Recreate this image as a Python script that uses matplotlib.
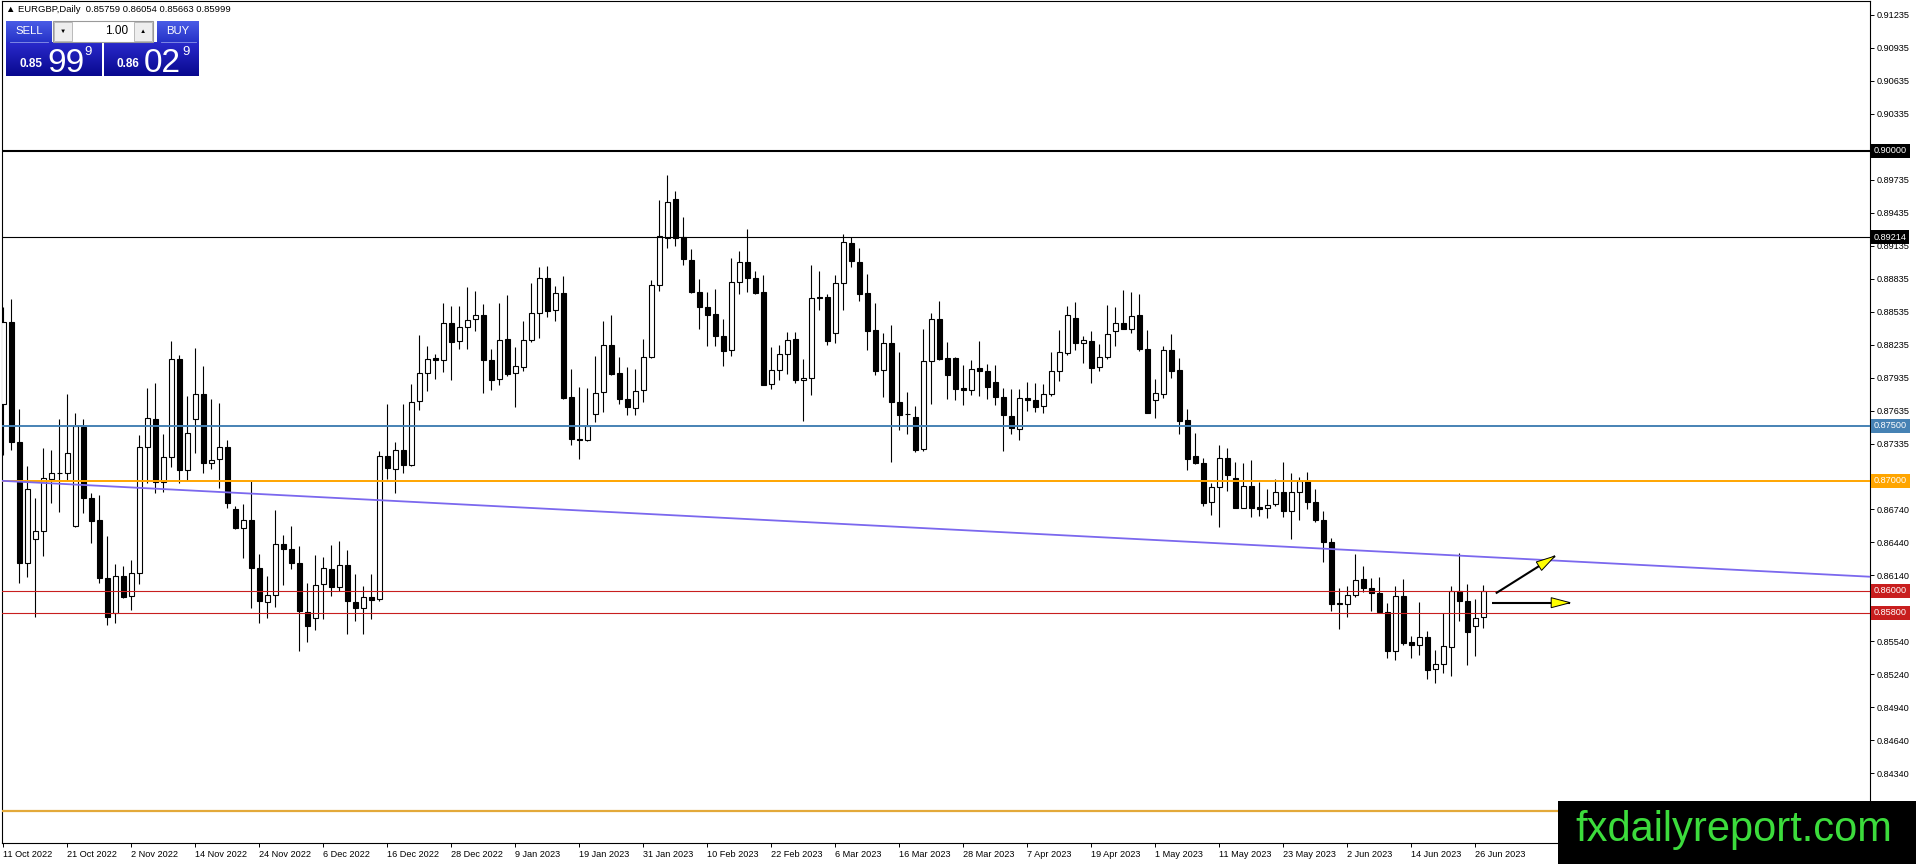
import numpy as np
import matplotlib
matplotlib.use("Agg")
import matplotlib.pyplot as plt
from matplotlib.patches import Rectangle, Polygon
from matplotlib.colors import LinearSegmentedColormap
from matplotlib.transforms import IdentityTransform, blended_transform_factory

# ---------------- data ----------------
symbol = "EURGBP,Daily"

opens = [0.87697, 0.88445, 0.87355, 0.86255, 0.86467, 0.86545, 0.87018, 0.87067, 0.87067, 0.86591,
         0.87491, 0.86839, 0.86642, 0.86118, 0.85794, 0.86133, 0.85952, 0.86158, 0.87303, 0.87558,
         0.86985, 0.87212, 0.88103, 0.87097, 0.87558, 0.87785, 0.87158, 0.87197, 0.87306, 0.86742,
         0.86570, 0.86645, 0.86206, 0.85900, 0.85961, 0.86424, 0.86379, 0.86252, 0.85806, 0.85752,
         0.86061, 0.86197, 0.86033, 0.86236, 0.85897, 0.85839, 0.85942, 0.85924, 0.87227, 0.87106,
         0.87282, 0.87145, 0.87724, 0.87979, 0.88115, 0.88094, 0.88433, 0.88267, 0.88397, 0.88467,
         0.88509, 0.88100, 0.87924, 0.88288, 0.87976, 0.88033, 0.88279, 0.88524, 0.88845, 0.88552,
         0.88706, 0.87761, 0.87379, 0.87367, 0.87606, 0.87803, 0.88236, 0.87979, 0.87742, 0.87661,
         0.87826, 0.88123, 0.88775, 0.89205, 0.89562, 0.89211, 0.89008, 0.88714, 0.88578, 0.88517,
         0.88314, 0.88184, 0.88805, 0.88987, 0.88844, 0.88714, 0.87878, 0.88005, 0.88150, 0.88290,
         0.87914, 0.87938, 0.88672, 0.88672, 0.88341, 0.88796, 0.89159, 0.88988, 0.88706, 0.88370,
         0.88003, 0.88255, 0.87715, 0.87603, 0.87579, 0.87288, 0.88085, 0.88470, 0.88115, 0.88115,
         0.87842, 0.87821, 0.88024, 0.88000, 0.87897, 0.87761, 0.87588, 0.87470, 0.87755, 0.87736,
         0.87676, 0.87788, 0.88000, 0.88161, 0.88476, 0.88248, 0.88270, 0.88030, 0.88121, 0.88364,
         0.88430, 0.88376, 0.88506, 0.88197, 0.87730, 0.87785, 0.88188, 0.88006, 0.87548, 0.87224,
         0.87161, 0.86803, 0.86945, 0.87206, 0.87021, 0.86755, 0.86952, 0.86761, 0.86748, 0.86788,
         0.86897, 0.86727, 0.86897, 0.86994, 0.86806, 0.86645, 0.86442, 0.85879, 0.85879, 0.85961,
         0.86106, 0.86024, 0.85982, 0.85806, 0.85448, 0.85955, 0.85533, 0.85506, 0.85579, 0.85288,
         0.85333, 0.85488, 0.85994, 0.85909, 0.85676, 0.85759]

highs = [0.88582, 0.88648, 0.87648, 0.87133, 0.86839, 0.87294, 0.87279, 0.87558, 0.87788, 0.87612,
         0.87558, 0.86885, 0.86870, 0.86497, 0.86242, 0.86224, 0.86279, 0.87415, 0.87839, 0.87885,
         0.87424, 0.88270, 0.88142, 0.87770, 0.88203, 0.88042, 0.87742, 0.87706, 0.87373, 0.86767,
         0.86791, 0.86994, 0.86336, 0.86136, 0.86736, 0.86509, 0.86591, 0.86403, 0.86070, 0.86327,
         0.86306, 0.86418, 0.86448, 0.86367, 0.86155, 0.86039, 0.86155, 0.87267, 0.87700, 0.87348,
         0.87700, 0.87882, 0.88327, 0.88227, 0.88152, 0.88615, 0.88591, 0.88585, 0.88758, 0.88727,
         0.88609, 0.88200, 0.88615, 0.88691, 0.88218, 0.88455, 0.88797, 0.88939, 0.88955, 0.88773,
         0.88858, 0.88015, 0.87852, 0.87842, 0.88136, 0.88448, 0.88503, 0.88124, 0.88036, 0.88018,
         0.88290, 0.88826, 0.89553, 0.89781, 0.89635, 0.89399, 0.89108, 0.88835, 0.88714, 0.88744,
         0.88472, 0.89023, 0.89090, 0.89284, 0.88908, 0.88866, 0.88214, 0.88235, 0.88356, 0.88356,
         0.88108, 0.88963, 0.88908, 0.88699, 0.88866, 0.89244, 0.89214, 0.89115, 0.88879, 0.88615,
         0.88342, 0.88418, 0.88170, 0.87806, 0.87676, 0.88379, 0.88524, 0.88630, 0.88258, 0.88121,
         0.88055, 0.88100, 0.88267, 0.88061, 0.88055, 0.87842, 0.87833, 0.87836, 0.87894, 0.87888,
         0.87879, 0.88170, 0.88373, 0.88585, 0.88627, 0.88315, 0.88361, 0.88242, 0.88597, 0.88582,
         0.88733, 0.88715, 0.88697, 0.88370, 0.87921, 0.88224, 0.88333, 0.88118, 0.87652, 0.87430,
         0.87203, 0.86982, 0.87321, 0.87294, 0.87170, 0.87164, 0.87185, 0.86991, 0.86921, 0.87015,
         0.87167, 0.87070, 0.87033, 0.87079, 0.86924, 0.86721, 0.86479, 0.86024, 0.86039, 0.86336,
         0.86227, 0.86115, 0.86121, 0.85888, 0.86045, 0.86106, 0.85585, 0.85897, 0.85636, 0.85464,
         0.85797, 0.86045, 0.86342, 0.86064, 0.85924, 0.86054]

lows = [0.87233, 0.87279, 0.86067, 0.86127, 0.85764, 0.86315, 0.86794, 0.86718, 0.87006, 0.86582,
        0.86703, 0.86436, 0.86067, 0.85688, 0.85703, 0.85930, 0.85824, 0.86058, 0.86976, 0.86885,
        0.86894, 0.87127, 0.86976, 0.87006, 0.87248, 0.87067, 0.87106, 0.86933, 0.86752, 0.86561,
        0.86297, 0.85842, 0.85706, 0.85752, 0.85852, 0.86049, 0.86197, 0.85448, 0.85530, 0.85639,
        0.85742, 0.85955, 0.85994, 0.85609, 0.85721, 0.85609, 0.85742, 0.85903, 0.87015, 0.86888,
        0.87070, 0.87130, 0.87639, 0.87812, 0.87927, 0.87988, 0.87918, 0.88200, 0.88200, 0.88364,
        0.87797, 0.87821, 0.87867, 0.87948, 0.87667, 0.87994, 0.88261, 0.88297, 0.88485, 0.88448,
        0.87745, 0.87321, 0.87200, 0.87358, 0.87530, 0.87624, 0.87958, 0.87700, 0.87600, 0.87600,
        0.87714, 0.88114, 0.88729, 0.89114, 0.89138, 0.88963, 0.88705, 0.88375, 0.88229, 0.88229,
        0.88041, 0.88132, 0.88693, 0.88720, 0.88693, 0.87866, 0.87835, 0.87920, 0.87966, 0.87890,
        0.87541, 0.87775, 0.88556, 0.88235, 0.88256, 0.88556, 0.88947, 0.88636, 0.88191, 0.87964,
        0.87758, 0.87170, 0.87458, 0.87424, 0.87258, 0.87267, 0.87700, 0.88100, 0.87745, 0.87736,
        0.87691, 0.87782, 0.87773, 0.87745, 0.87691, 0.87267, 0.87424, 0.87373, 0.87636, 0.87624,
        0.87615, 0.87767, 0.87903, 0.88142, 0.88188, 0.88073, 0.87891, 0.88000, 0.88103, 0.88224,
        0.88376, 0.88345, 0.88182, 0.87612, 0.87573, 0.87755, 0.87930, 0.87424, 0.87097, 0.87152,
        0.86770, 0.86688, 0.86582, 0.86909, 0.86748, 0.86748, 0.86673, 0.86679, 0.86658, 0.86767,
        0.86670, 0.86470, 0.86645, 0.86742, 0.86624, 0.86261, 0.85812, 0.85652, 0.85761, 0.85942,
        0.85985, 0.85812, 0.85797, 0.85388, 0.85367, 0.85509, 0.85388, 0.85418, 0.85197, 0.85161,
        0.85252, 0.85221, 0.85721, 0.85327, 0.85403, 0.85663]

closes = [0.88445, 0.87355, 0.86255, 0.86921, 0.86545, 0.87021, 0.87067, 0.87070, 0.87255, 0.87500,
          0.86839, 0.86636, 0.86118, 0.85758, 0.86133, 0.85945, 0.86158, 0.87303, 0.87567, 0.86991,
          0.87212, 0.88103, 0.87097, 0.87430, 0.87785, 0.87158, 0.87188, 0.87306, 0.86797, 0.86570,
          0.86639, 0.86206, 0.85903, 0.85961, 0.86424, 0.86379, 0.86252, 0.85812, 0.85682, 0.86052,
          0.86206, 0.86033, 0.86236, 0.85903, 0.85839, 0.85942, 0.85912, 0.87227, 0.87112, 0.87282,
          0.87145, 0.87715, 0.87979, 0.88106, 0.88094, 0.88433, 0.88261, 0.88397, 0.88458, 0.88506,
          0.88100, 0.87912, 0.88279, 0.87973, 0.88042, 0.88279, 0.88524, 0.88845, 0.88539, 0.88706,
          0.87752, 0.87379, 0.87367, 0.87497, 0.87797, 0.88236, 0.87973, 0.87742, 0.87667, 0.87818,
          0.88123, 0.88775, 0.89223, 0.89532, 0.89205, 0.89011, 0.88714, 0.88575, 0.88502, 0.88311,
          0.88175, 0.88805, 0.88987, 0.88841, 0.88708, 0.87872, 0.88005, 0.88150, 0.88278, 0.87911,
          0.87938, 0.88659, 0.88659, 0.88272, 0.88796, 0.89169, 0.88993, 0.88700, 0.88364, 0.88000,
          0.88255, 0.87712, 0.87600, 0.87606, 0.87282, 0.88091, 0.88470, 0.88109, 0.87958, 0.87836,
          0.87821, 0.88015, 0.87994, 0.87855, 0.87758, 0.87594, 0.87479, 0.87752, 0.87730, 0.87667,
          0.87788, 0.88000, 0.88170, 0.88509, 0.88248, 0.88279, 0.88027, 0.88121, 0.88333, 0.88430,
          0.88382, 0.88497, 0.88197, 0.87618, 0.87794, 0.88188, 0.88000, 0.87545, 0.87200, 0.87158,
          0.86800, 0.86945, 0.87203, 0.87055, 0.86755, 0.86952, 0.86755, 0.86745, 0.86779, 0.86897,
          0.86727, 0.86897, 0.86994, 0.86806, 0.86639, 0.86442, 0.85879, 0.85885, 0.85961, 0.86094,
          0.86024, 0.85979, 0.85803, 0.85448, 0.85955, 0.85524, 0.85506, 0.85579, 0.85282, 0.85333,
          0.85494, 0.85994, 0.85903, 0.85621, 0.85752, 0.85999]

date_labels = ["11 Oct 2022", "21 Oct 2022", "2 Nov 2022", "14 Nov 2022", "24 Nov 2022",
               "6 Dec 2022", "16 Dec 2022", "28 Dec 2022", "9 Jan 2023", "19 Jan 2023",
               "31 Jan 2023", "10 Feb 2023", "22 Feb 2023", "6 Mar 2023", "16 Mar 2023",
               "28 Mar 2023", "7 Apr 2023", "19 Apr 2023", "1 May 2023", "11 May 2023",
               "23 May 2023", "2 Jun 2023", "14 Jun 2023", "26 Jun 2023"]
bars_per_label = 8

price_ticks = [0.91235, 0.90935, 0.90635, 0.90335, 0.90035, 0.89735, 0.89435, 0.89135,
               0.88835, 0.88535, 0.88235, 0.87935, 0.87635, 0.87335, 0.87040, 0.86740,
               0.86440, 0.86140, 0.85840, 0.85540, 0.85240, 0.84940, 0.84640, 0.84340]

level_prices = [0.90000, 0.89214, 0.87500, 0.87000, 0.86000, 0.85800, 0.84000]
level_colors = ["#000000", "#000000", "#4682B4", "#FFA500", "#C81E1E", "#C81E1E", "#E3A93A"]
level_widths = [1.5, 0.8, 1.4, 1.4, 0.8, 0.8, 1.6]
level_tagged = [True, True, True, True, True, True, False]

trend_x = [-0.375, 233.4]
trend_y = [0.87000, 0.86127]

sell_price = ("0.85", "99", "9")
buy_price = ("0.86", "02", "9")
lot_size = "1.00"
watermark = "fxdailyreport.com"

# ---------------- figure ----------------
W, H = 1916, 864
plt.rcParams["font.family"] = ["Liberation Sans", "DejaVu Sans"]
fig = plt.figure(figsize=(W / 100, H / 100), dpi=100)
fig.patch.set_facecolor("white")

ax = fig.add_axes([2 / W, 21 / H, 1868 / W, 842 / H])
ax.set_facecolor("white")
ax.set_xlim(-0.125, 233.375)
ax.set_ylim(0.837064, 0.913609)

o = np.array(opens); h = np.array(highs); l = np.array(lows); c = np.array(closes)
x = np.arange(len(o))
up = c >= o

# candles
ax.vlines(x, l, h, color="black", lw=0.8, zorder=3)
bottoms = np.minimum(o, c)
heights = np.abs(c - o)
ax.bar(x, heights, bottom=bottoms, width=0.625,
       color=np.where(up, "white", "black"), edgecolor="black", lw=0.8, zorder=4)

# horizontal levels
for p, col, lw in zip(level_prices, level_colors, level_widths):
    ax.axhline(p, color=col, lw=lw, zorder=5)

# trend line
ax.plot(trend_x, trend_y, color="#7B68EE", lw=1.3, zorder=5, clip_on=True)

# axes style
for s in ax.spines.values():
    s.set_color("black")
    s.set_linewidth(0.8)

ax.yaxis.tick_right()
ax.set_yticks(price_ticks)
ax.set_yticklabels([f"{t:.5f}" for t in price_ticks])
ax.tick_params(axis="y", direction="out", length=3, width=0.7, pad=1.5,
               labelsize=6.6, colors="black")

tick_pos = [i * bars_per_label for i in range(len(date_labels))]
ax.set_xticks(tick_pos)
ax.set_xticklabels(date_labels)
ax.tick_params(axis="x", direction="out", length=3, width=0.7, pad=2,
               labelsize=6.6, colors="black")
for lab in ax.get_xticklabels():
    lab.set_ha("left")

# level tags on the price axis
btr = blended_transform_factory(ax.transAxes, ax.transData)
for p, col, tag in zip(level_prices, level_colors, level_tagged):
    if not tag:
        continue
    ax.text(1.0 + 4 / 1868, p, f"{p:.5f}", transform=btr, ha="left", va="center",
            fontsize=6.6, color="white", clip_on=False, zorder=20,
            bbox=dict(boxstyle="square,pad=0.28", fc=col, ec=col, lw=0))

# arrows (shaft black, head yellow)
def draw_arrow(x0, y0, x1, y1):
    ax.plot([x0, x1], [y0, y1], color="black", lw=1.5, zorder=8, solid_capstyle="butt")
    p0 = ax.transData.transform((x0, y0))
    p1 = ax.transData.transform((x1, y1))
    d = (p1 - p0) / np.hypot(*(p1 - p0))
    n = np.array([-d[1], d[0]])
    base = p1 - d * 19
    pts = [p1, base + n * 5, base - n * 5]
    ax.add_patch(Polygon(pts, closed=True, transform=IdentityTransform(),
                         fc="#FFFF00", ec="black", lw=0.7, zorder=9))

draw_arrow(186.6, 0.85976, 194.0, 0.86315)
draw_arrow(186.1, 0.85891, 195.9, 0.85891)

# ---------------- overlay (pixel coordinates) ----------------
ov = fig.add_axes([0, 0, 1, 1], zorder=10)
ov.set_xlim(0, W)
ov.set_ylim(H, 0)
ov.axis("off")
ov.patch.set_alpha(0)

# header line
hdr = "\u25B2 " + symbol + "  " + " ".join(f"{v:.5f}" for v in (opens[-1], highs[-1], lows[-1], closes[-1]))
ov.text(6, 9.5, hdr, fontsize=6.8, color="black", ha="left", va="center")

# sell / buy panel with vertical gradients
hdr_cmap = LinearSegmentedColormap.from_list("hdr", ["#4A5CE6", "#2633C8"])
box_cmap = LinearSegmentedColormap.from_list("box", ["#2A2ACC", "#08088E"])
grad = np.linspace(0, 1, 64).reshape(-1, 1)

def grad_rect(x0, y0, w, hgt, cmap):
    ov.imshow(grad, cmap=cmap, aspect="auto", extent=(x0, x0 + w, y0 + hgt, y0),
              interpolation="bilinear", zorder=1)

grad_rect(6, 21, 46, 21, hdr_cmap)
grad_rect(157, 21, 42, 21, hdr_cmap)
grad_rect(6, 42, 96, 34, box_cmap)
grad_rect(104, 42, 95, 34, box_cmap)
ov.set_xlim(0, W)
ov.set_ylim(H, 0)

ov.add_patch(Rectangle((53, 21), 100, 21, fc="white", ec="#9A9A9A", lw=0.8, zorder=2))
ov.add_patch(Rectangle((54, 22), 18, 19, fc="#EEEEEE", ec="#B0B0B0", lw=0.6, zorder=3))
ov.add_patch(Rectangle((134, 22), 18, 19, fc="#EEEEEE", ec="#B0B0B0", lw=0.6, zorder=3))
ov.plot([10, 48], [41.5, 41.5], color="#8A95E8", lw=0.6, zorder=3)
ov.plot([161, 196], [41.5, 41.5], color="#8A95E8", lw=0.6, zorder=3)
ov.text(63, 31.5, "\u25BC", fontsize=4.5, ha="center", va="center", color="black", zorder=4)
ov.text(143, 31.5, "\u25B2", fontsize=4.5, ha="center", va="center", color="black", zorder=4)
ov.text(128, 31.5, lot_size, fontsize=8.5, ha="right", va="center", color="black", zorder=4)
ov.text(29, 31.5, "SELL", fontsize=8.2, ha="center", va="center", color="white", zorder=4)
ov.text(178, 31.5, "BUY", fontsize=8.2, ha="center", va="center", color="white", zorder=4)

ov.text(20, 64, sell_price[0], fontsize=8.5, fontweight="bold", ha="left", va="center", color="white", zorder=4)
ov.text(47, 72, sell_price[1], fontsize=24, ha="left", va="baseline", color="white", zorder=4)
ov.text(84, 52, sell_price[2], fontsize=9.5, ha="left", va="center", color="white", zorder=4)
ov.text(117, 64, buy_price[0], fontsize=8.5, fontweight="bold", ha="left", va="center", color="white", zorder=4)
ov.text(144, 72, buy_price[1], fontsize=24, ha="left", va="baseline", color="white", zorder=4)
ov.text(182, 52, buy_price[2], fontsize=9.5, ha="left", va="center", color="white", zorder=4)

# watermark box
ov.add_patch(Rectangle((1558, 801), W - 1558, H - 801, fc="black", ec="none", zorder=30))
ov.text(1575, 841, watermark, fontsize=30, color="#3CDC3C", ha="left", va="baseline", zorder=31)

fig.savefig("out.png", dpi=100, facecolor="white")
